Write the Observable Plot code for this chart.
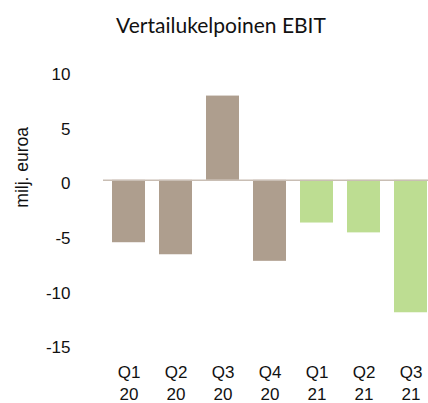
<!DOCTYPE html>
<html>
<head>
<meta charset="utf-8">
<script src="https://cdn.jsdelivr.net/npm/d3@7"></script>
<script src="https://cdn.jsdelivr.net/npm/@observablehq/plot@0.6"></script>
<style>
  html, body { margin: 0; padding: 0; background: #fff; overflow: hidden; }
  #wrap { width: 428px; height: 403px; position: relative; overflow: hidden; }
  #title { height: 50px; width: 428px; box-sizing: border-box; padding-left: 14px; text-align: center;
           font-family: Lato, "Open Sans", sans-serif; font-size: 21px; line-height: 50px; color: #111; }
  #chart svg { overflow: hidden; display: block; }
  #chart svg, #chart svg text { font-family: "Liberation Sans", Arial, sans-serif !important; }
</style>
</head>
<body>
<div id="wrap">
  <div id="title">Vertailukelpoinen EBIT</div>
  <div id="chart"></div>
</div>
<script>
const quarters = ["Q1\n20", "Q2\n20", "Q3\n20", "Q4\n20", "Q1\n21", "Q2\n21", "Q3\n21"];
const ebit = [-5.7, -6.8, 7.7, -7.4, -3.9, -4.8, -12.1];
const period = ["2020", "2020", "2020", "2020", "2021", "2021", "2021"];
const yTicks = [10, 5, 0, -5, -10, -15];
const yLabel = "milj. euroa";

const data = quarters.map((q, i) => ({q, v: ebit[i], p: period[i]}));

const chart = Plot.plot({
  width: 428,
  height: 353,
  marginLeft: 103,
  marginRight: -9,
  marginTop: 20.4,
  marginBottom: 59,
  style: {fontSize: "17px", color: "#111", overflow: "hidden"},
  x: {domain: quarters, paddingInner: 0.29, paddingOuter: 0.145},
  y: {domain: [-15, 10]},
  color: {domain: ["2020", "2021"], range: ["#ae9e8e", "#bddd92"]},
  marks: [
    Plot.barY(data, {x: "q", y: "v", fill: "p"}),
    Plot.ruleY([0], {stroke: "#c9beb4", strokeWidth: 1.5}),
    Plot.axisY({ticks: yTicks, tickSize: 0, tickPadding: 33, tickFormat: d => String(d), label: null, dy: 3.5, fontSize: 17}),
    Plot.axisX({tickSize: 0, tickPadding: 17, lineHeight: 1.335, label: null, fontSize: 17}),
    Plot.text([yLabel], {frameAnchor: "left", rotate: -90, dx: -81, fontSize: 17.5, text: d => d})
  ]
});
document.getElementById("chart").appendChild(chart);
</script>
</body>
</html>
